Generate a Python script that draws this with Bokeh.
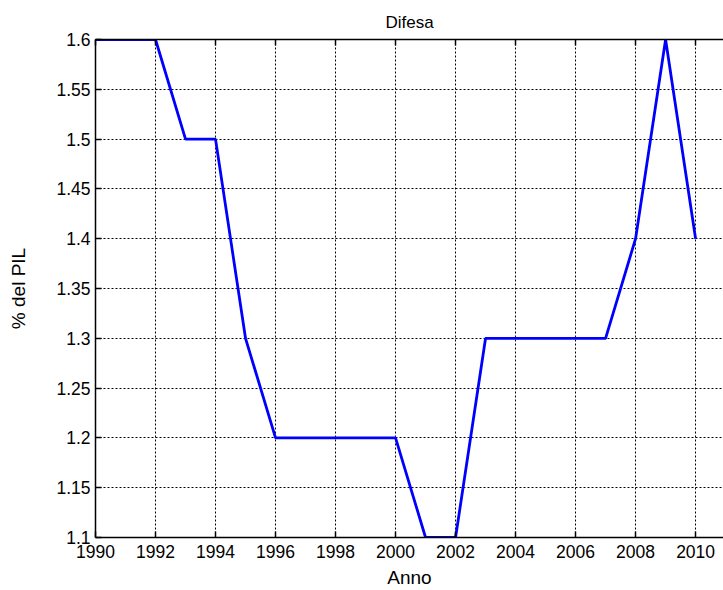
from bokeh.plotting import figure
from bokeh.models import LinearAxis, FixedTicker, CustomJSTickFormatter, Range1d
from bokeh.embed import file_html
from bokeh.resources import INLINE

years = list(range(1990, 2011))
pil = [1.6, 1.6, 1.6, 1.5, 1.5, 1.3, 1.2, 1.2, 1.2, 1.2, 1.2,
       1.1, 1.1, 1.3, 1.3, 1.3, 1.3, 1.3, 1.4, 1.6, 1.4]
x_ticks = list(range(1990, 2011, 2))
y_ticks = [1.1, 1.15, 1.2, 1.25, 1.3, 1.35, 1.4, 1.45, 1.5, 1.55, 1.6]

FONT = "Liberation Sans"

p = figure(width=723, height=590, output_backend="svg", toolbar_location=None,
           x_range=Range1d(1990, 2010.93), y_range=Range1d(1.1, 1.6),
           min_border_left=95, min_border_right=0, min_border_top=39, min_border_bottom=52,
           x_axis_label="Anno", y_axis_label="% del PIL")
p.outline_line_color = None
p.background_fill_color = "white"
p.border_fill_color = "white"

p.title.text = "Difesa"
p.title.align = "center"
p.title.text_font = FONT
p.title.text_font_size = "17px"
p.title.text_font_style = "normal"
p.title.text_color = "black"
p.title.standoff = 16

fmt = CustomJSTickFormatter(code="return String(Number(tick.toFixed(2)));")

for ax in (p.xaxis[0], p.yaxis[0]):
    ax.axis_line_color = "black"
    ax.axis_line_width = 1.5
    ax.major_tick_in = 6
    ax.major_tick_out = 0
    ax.minor_tick_line_color = None
    ax.major_tick_line_color = "black"
    ax.major_tick_line_width = 1.5
    ax.major_label_text_font = FONT
    ax.major_label_text_font_size = "17.5px"
    ax.major_label_text_color = "black"
    ax.axis_label_text_font = FONT
    ax.axis_label_text_font_size = "19px"
    ax.axis_label_text_font_style = "normal"
    ax.axis_label_text_color = "black"

p.xaxis[0].ticker = FixedTicker(ticks=x_ticks)
p.yaxis[0].ticker = FixedTicker(ticks=y_ticks)
p.yaxis[0].formatter = fmt
p.xaxis[0].major_label_standoff = 7
p.xaxis[0].axis_label_standoff = 6
p.yaxis[0].major_label_standoff = 5
p.yaxis[0].axis_label_standoff = 24

top = LinearAxis(ticker=FixedTicker(ticks=x_ticks), major_label_text_font_size="0px",
                 axis_line_color="black", axis_line_width=1.5, major_tick_in=6,
                 major_tick_out=0, minor_tick_line_color=None,
                 major_tick_line_color="black", major_tick_line_width=1.5,
                 major_label_standoff=0)
p.add_layout(top, "above")

for g in (p.xgrid[0], p.ygrid[0]):
    g.grid_line_color = "black"
    g.grid_line_dash = "2 2"
    g.grid_line_width = 1
    g.grid_line_alpha = 1.0
p.xgrid[0].ticker = FixedTicker(ticks=x_ticks)
p.ygrid[0].ticker = FixedTicker(ticks=y_ticks)

p.line(years, pil, line_color="#0000ff", line_width=2.8)

open("out.html", "w").write(file_html(p, INLINE))
